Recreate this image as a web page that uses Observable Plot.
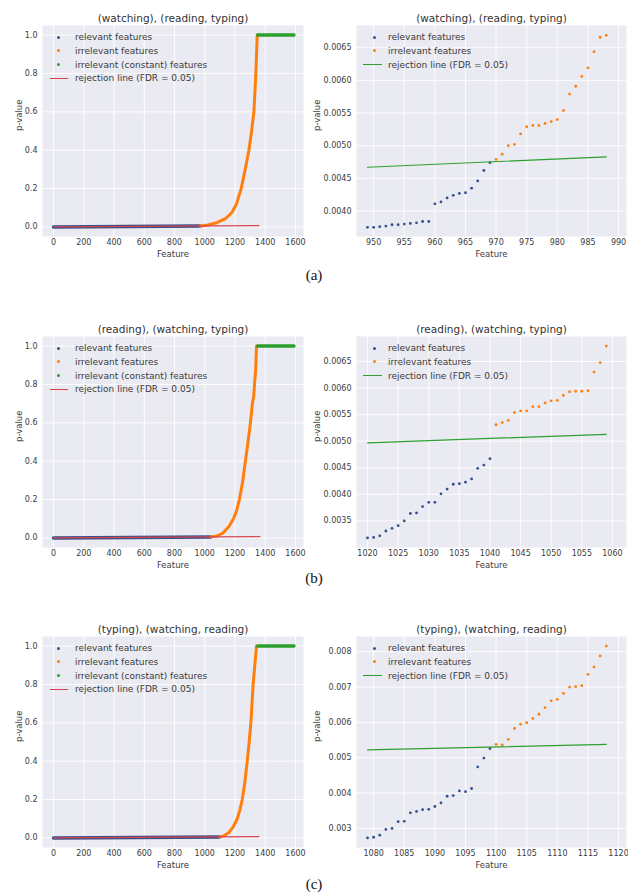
<!DOCTYPE html>
<html><head><meta charset="utf-8">
<script src="https://cdn.jsdelivr.net/npm/d3@7"></script>
<script src="https://cdn.jsdelivr.net/npm/@observablehq/plot@0.6"></script>
<style>
body{margin:0;background:#fff;}
#fig{position:relative;width:628px;height:896px;overflow:hidden;font-family:"DejaVu Sans",sans-serif;background:#fff;}
.panel{position:absolute;}
.cap{position:absolute;font-family:"Liberation Serif","Times New Roman",serif;font-size:15px;color:#111;transform:translate(-50%,-50%);}
.leg{position:absolute;font-size:9px;color:#3a3a3a;white-space:nowrap;line-height:10px;}
.sw{position:absolute;}
</style></head><body><div id="fig"></div>
<script>
// ---------- text ----------
const titles = ["(watching), (reading, typing)", "(reading), (watching, typing)", "(typing), (watching, reading)"];
const captions = ["(a)", "(b)", "(c)"];
const legendLeft = ["relevant features", "irrelevant features", "irrelevant (constant) features", "rejection line (FDR = 0.05)"];
const legendRight = ["relevant features", "irrelevant features", "rejection line (FDR = 0.05)"];

// ---------- ticks ----------
const leftXTicks = [0, 200, 400, 600, 800, 1000, 1200, 1400, 1600];
const leftYTicks = [0, 0.2, 0.4, 0.6, 0.8, 1.0];
const rightXTicksA = [950, 955, 960, 965, 970, 975, 980, 985, 990];
const rightYTicksA = [0.0040, 0.0045, 0.0050, 0.0055, 0.0060, 0.0065];
const rightXTicksB = [1020, 1025, 1030, 1035, 1040, 1045, 1050, 1055, 1060];
const rightYTicksB = [0.0035, 0.0040, 0.0045, 0.0050, 0.0055, 0.0060, 0.0065];
const rightXTicksC = [1080, 1085, 1090, 1095, 1100, 1105, 1110, 1115, 1120];
const rightYTicksC = [0.003, 0.004, 0.005, 0.006, 0.007, 0.008];

// ---------- left panels (all features) ----------
const relLeftA_x = [0, 969];   const relLeftA_p = [0, 0.0047];
const relLeftB_x = [0, 1040];  const relLeftB_p = [0, 0.00467];
const relLeftC_x = [0, 1099];  const relLeftC_p = [0, 0.00526];

const irrLeftA_x = [970, 1020, 1080, 1140, 1180, 1210, 1241, 1265, 1292, 1310, 1325, 1338, 1347];
const irrLeftA_p = [0.005, 0.01, 0.022, 0.045, 0.075, 0.12, 0.2, 0.29, 0.4, 0.5, 0.6, 0.8, 1.0];
const irrLeftB_x = [1041, 1080, 1120, 1160, 1190, 1210, 1229, 1250, 1269, 1286, 1302, 1315, 1324, 1329, 1337, 1342];
const irrLeftB_p = [0.0053, 0.01, 0.025, 0.06, 0.1, 0.14, 0.2, 0.29, 0.4, 0.5, 0.6, 0.7, 0.74, 0.8, 0.88, 1.0];
const irrLeftC_x = [1100, 1130, 1160, 1190, 1215, 1232, 1248, 1265, 1281, 1294, 1305, 1320, 1331, 1342];
const irrLeftC_p = [0.0054, 0.012, 0.028, 0.06, 0.1, 0.145, 0.2, 0.29, 0.4, 0.5, 0.6, 0.8, 0.9, 1.0];

const constLeft_x = [1350, 1590]; const constLeft_p = [1.0, 1.0];

const rejLeftA_x = [0, 1358]; const rejLeftA_p = [0, 0.0066];
const rejLeftB_x = [0, 1365]; const rejLeftB_p = [0, 0.0066];
const rejLeftC_x = [0, 1358]; const rejLeftC_p = [0, 0.0066];

// ---------- right panels (zoom around the cut) ----------
const relRightA_x = [949,950,951,952,953,954,955,956,957,958,959,960,961,962,963,964,965,966,967,968,969];
const relRightA_p = [0.00375,0.00375,0.00376,0.00377,0.00379,0.00379,0.0038,0.00381,0.00382,0.00384,0.00384,0.00411,0.00414,0.0042,0.00424,0.00427,0.00428,0.00435,0.00446,0.00462,0.00474];
const irrRightA_x = [970,971,972,973,974,975,976,977,978,979,980,981,982,983,984,985,986,987,988];
const irrRightA_p = [0.00479,0.00487,0.0050,0.00502,0.00518,0.00529,0.00531,0.00531,0.00534,0.00537,0.0054,0.00554,0.00579,0.00591,0.00606,0.00619,0.00644,0.00666,0.00669];
const rejRightA_x = [949, 988]; const rejRightA_p = [0.00467, 0.00483];

const relRightB_x = [1020,1021,1022,1023,1024,1025,1026,1027,1028,1029,1030,1031,1032,1033,1034,1035,1036,1037,1038,1039,1040];
const relRightB_p = [0.00318,0.00319,0.00322,0.00331,0.00336,0.00341,0.0035,0.00364,0.00365,0.00377,0.00385,0.00385,0.00401,0.0041,0.00419,0.0042,0.00423,0.00429,0.00449,0.00455,0.00467];
const irrRightB_x = [1041,1042,1043,1044,1045,1046,1047,1048,1049,1050,1051,1052,1053,1054,1055,1056,1057,1058,1059];
const irrRightB_p = [0.00531,0.00535,0.00539,0.00554,0.00557,0.00557,0.00565,0.00565,0.00572,0.00576,0.00577,0.00586,0.00593,0.00594,0.00594,0.00595,0.0063,0.00648,0.00679];
const rejRightB_x = [1020, 1059]; const rejRightB_p = [0.00497, 0.00513];

const relRightC_x = [1079,1080,1081,1082,1083,1084,1085,1086,1087,1088,1089,1090,1091,1092,1093,1094,1095,1096,1097,1098,1099];
const relRightC_p = [0.00273,0.00275,0.00281,0.00297,0.003,0.00319,0.0032,0.00344,0.00348,0.00353,0.00354,0.00362,0.00372,0.00391,0.00393,0.00406,0.00404,0.00413,0.00474,0.00499,0.00526];
const irrRightC_x = [1100,1101,1102,1103,1104,1105,1106,1107,1108,1109,1110,1111,1112,1113,1114,1115,1116,1117,1118];
const irrRightC_p = [0.00538,0.00536,0.00552,0.00583,0.00595,0.00599,0.00611,0.00623,0.00642,0.00661,0.00665,0.00682,0.007,0.00701,0.00704,0.00736,0.00757,0.00788,0.00816];
const rejRightC_x = [1079, 1118]; const rejRightC_p = [0.00522, 0.00538];

// ---------- styling ----------
const BLUE = "#34528a", ORANGE = "#ff7f0e", GREEN = "#2ca02c", RED = "#d8444e";
const BG = "#eaeaf2";
const rowTop = [25, 336, 636];  // top of plotting area per row
const MT = 25, MB = 26, FH = 211;

const fig = document.getElementById("fig");

function panel(o) {
  return Plot.plot({
    width: o.w, height: MT + FH + MB,
    marginLeft: o.ml, marginRight: o.mr, marginTop: MT, marginBottom: MB,
    style: {fontFamily: "DejaVu Sans, sans-serif", fontSize: "8px", color: "#3c3c3c", background: "transparent", overflow: "visible"},
    x: {domain: o.xd},
    y: {domain: o.yd},
    marks: [
      Plot.frame({fill: BG, stroke: "none"}),
      Plot.gridX(o.xt, {stroke: "#fff", strokeOpacity: 1, strokeWidth: 0.9}),
      Plot.gridY(o.yt, {stroke: "#fff", strokeOpacity: 1, strokeWidth: 0.9}),
      Plot.axisX(o.xt, {tickSize: 0, tickPadding: 3, label: null, tickFormat: "d"}),
      Plot.axisY(o.yt, {tickSize: 0, tickPadding: 5, label: null, tickFormat: o.yf}),
      ...o.marks,
      Plot.text([o.title], {frameAnchor: "top", dy: -7, fontSize: 10.5, lineAnchor: "middle", fill: "#333"}),
      Plot.text(["Feature"], {frameAnchor: "bottom", dy: 18, lineAnchor: "middle", fontSize: 8.5}),
      Plot.text(["p-value"], {frameAnchor: "left", dx: o.ylx, rotate: -90, lineAnchor: "middle", fontSize: 8.5})
    ]
  });
}

function place(node, left, top) {
  const d = document.createElement("div");
  d.className = "panel";
  d.style.left = left + "px";
  d.style.top = top + "px";
  d.appendChild(node);
  fig.appendChild(d);
}

function legend(bgLeft, bgTop, labels, kinds, colors, mdx, tdx, lx0, lx1) {
  labels.forEach((lab, i) => {
    const cy = bgTop + 12 + i * 13.8;
    const t = document.createElement("div");
    t.className = "leg";
    t.textContent = lab;
    t.style.left = (bgLeft + tdx) + "px";
    t.style.top = (cy - 5) + "px";
    fig.appendChild(t);
    const s = document.createElement("div");
    s.className = "sw";
    if (kinds[i] === "dot") {
      s.style.left = (bgLeft + mdx - 1.5) + "px";
      s.style.top = (cy - 1.5) + "px";
      s.style.width = "3px"; s.style.height = "3px";
      s.style.borderRadius = "50%";
    } else {
      s.style.left = (bgLeft + lx0) + "px";
      s.style.top = (cy - 0.7) + "px";
      s.style.width = (lx1 - lx0) + "px"; s.style.height = "1.4px";
    }
    s.style.background = colors[i];
    fig.appendChild(s);
  });
}

const L = {
  rel: [[relLeftA_x, relLeftA_p], [relLeftB_x, relLeftB_p], [relLeftC_x, relLeftC_p]],
  irr: [[irrLeftA_x, irrLeftA_p], [irrLeftB_x, irrLeftB_p], [irrLeftC_x, irrLeftC_p]],
  rej: [[rejLeftA_x, rejLeftA_p], [rejLeftB_x, rejLeftB_p], [rejLeftC_x, rejLeftC_p]]
};
const R = {
  rel: [[relRightA_x, relRightA_p], [relRightB_x, relRightB_p], [relRightC_x, relRightC_p]],
  irr: [[irrRightA_x, irrRightA_p], [irrRightB_x, irrRightB_p], [irrRightC_x, irrRightC_p]],
  rej: [[rejRightA_x, rejRightA_p], [rejRightB_x, rejRightB_p], [rejRightC_x, rejRightC_p]],
  xt: [rightXTicksA, rightXTicksB, rightXTicksC],
  yt: [rightYTicksA, rightYTicksB, rightYTicksC],
  yf: [".4f", ".4f", ".3f"],
  yd: [[0.00361, 0.00684], [0.0030, 0.00697], [0.00246, 0.00843]]
};

const line = (xy, opts) => Plot.line({length: xy[0].length}, {x: xy[0], y: xy[1], ...opts});
const dots = (xy, opts) => Plot.dot({length: xy[0].length}, {x: xy[0], y: xy[1], ...opts});

for (let r = 0; r < 3; r++) {
  const top = rowTop[r] - MT;
  // left
  place(panel({
    w: 310, ml: 42, mr: 7, ylx: -23,
    xd: [-73, 1653], yd: [-0.05, 1.05],
    xt: leftXTicks, yt: leftYTicks, yf: ".1f",
    title: titles[r],
    marks: [
      line(L.rel[r], {stroke: BLUE, strokeWidth: 3.5, strokeLinecap: "round"}),
      line(L.irr[r], {stroke: ORANGE, strokeWidth: 3, strokeLinecap: "round", strokeLinejoin: "round"}),
      line([constLeft_x, constLeft_p], {stroke: GREEN, strokeWidth: 3.5, strokeLinecap: "round"}),
      line(L.rej[r], {stroke: RED, strokeWidth: 1.1})
    ]
  }), 0, top);
  legend(42, rowTop[r], legendLeft, ["dot", "dot", "dot", "line"], [BLUE, ORANGE, GREEN, RED], 16, 33, 8, 26);

  // right
  const x0 = R.rel[r][0][0];
  place(panel({
    w: 318, ml: 46, mr: 2, ylx: -39,
    xd: [x0 - 1.8, x0 + 42.3], yd: R.yd[r],
    xt: R.xt[r], yt: R.yt[r], yf: R.yf[r],
    title: titles[r],
    marks: [
      dots(R.rel[r], {fill: BLUE, r: 1.4}),
      dots(R.irr[r], {fill: ORANGE, r: 1.4}),
      line(R.rej[r], {stroke: GREEN, strokeWidth: 1.2})
    ]
  }), 310, top);
  legend(356, rowTop[r], legendRight, ["dot", "dot", "line"], [BLUE, ORANGE, GREEN], 18, 32, 7, 26);
}

// captions
const capY = [275, 578, 884];
captions.forEach((c, i) => {
  const d = document.createElement("div");
  d.className = "cap";
  d.textContent = c;
  d.style.left = "314px";
  d.style.top = capY[i] + "px";
  fig.appendChild(d);
});
</script></body></html>
